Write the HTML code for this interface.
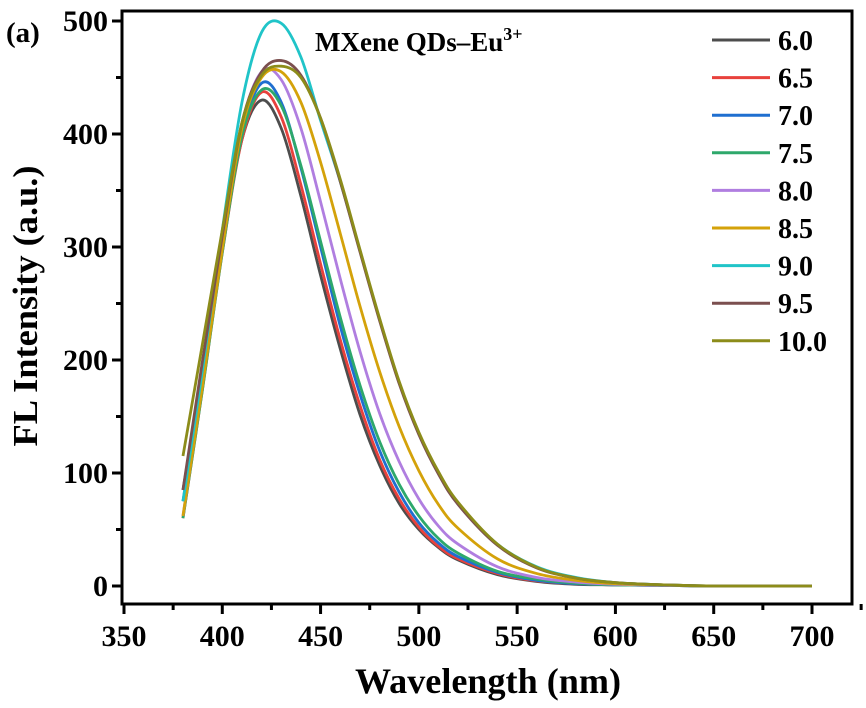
<!DOCTYPE html>
<html><head><meta charset="utf-8"><style>
body{margin:0;background:#fff;}
svg text{font-family:"Liberation Serif",serif;font-weight:bold;fill:#000;}
</style></head><body>
<svg id="chart" width="866" height="703" xmlns="http://www.w3.org/2000/svg">
<rect x="122" y="11" width="730" height="593" fill="none" stroke="#000" stroke-width="3"/>
<g id="axes"></g>
<g id="series"></g>
<g id="legend"></g>
<text x="6" y="42" font-size="29">(a)</text>
<text x="315" y="51" font-size="27">MXene QDs–Eu<tspan dy="-11" font-size="18">3+</tspan></text>
<text x="488" y="693" font-size="36" text-anchor="middle" textLength="266" lengthAdjust="spacingAndGlyphs">Wavelength (nm)</text>
<text transform="translate(37,306) rotate(-90)" font-size="35" text-anchor="middle" textLength="281" lengthAdjust="spacingAndGlyphs">FL Intensity (a.u.)</text>
</svg>
<script>
const wavelengths=[380,390,400,410,420,430,440,450,460,470,480,490,500,510,520,540,560,580,600,625,650,700];
const seriesNames=["6.0","6.5","7.0","7.5","8.0","8.5","9.0","9.5","10.0"];
const seriesColors=["#4d4d4d","#e8413c","#1f6fd0","#2ea86b","#b07ee0","#d4a20a","#20c4c8","#7b4f4f","#8c8c1a"];
const s60=[85,190,300,395,430,405,345,275,210,152,107,73,50,34,23,10,4,1.5,1,0.5,0,0];
const s65=[60,175,295,395,437,415,355,285,218,160,112,77,52,35,24,11,4.5,2,1,0.5,0,0];
const s70=[75,185,300,400,445,428,370,300,230,170,120,83,56,38,26,12,5,2,1,0.5,0,0];
const s75=[60,175,295,398,439,425,372,305,238,178,128,90,62,42,29,13,6,2.5,1,0.5,0,0];
const s80=[62,180,300,408,455,448,405,340,272,208,153,110,77,53,37,17,7.5,3.5,1.5,0.5,0,0];
const s85=[62,178,298,405,450,455,428,375,312,248,190,141,102,72,51,24,11,5,2,1,0,0];
const s90=[75,192,315,428,490,498,468,412,358,297,236,180,135,100,73,37,17,7.5,3,1,0,0];
const s95=[85,200,310,410,455,465,452,414,358,296,235,179,134,99,72,36,16,7,3,1,0,0];
const s100=[115,215,315,410,452,460,450,414,360,298,237,181,136,101,74,37,16.5,7,3,1,0,0];
const seriesValues=[s60,s65,s70,s75,s80,s85,s90,s95,s100];
const xTicks=[350,400,450,500,550,600,650,700];
const yTicks=[0,100,200,300,400,500];

const NS="http://www.w3.org/2000/svg";
function xs(v){return 124+(v-350)*(812-124)/350;}
function ys(v){return 586-v*(586-21)/500;}
function mk(tag,attrs,parent){const e=document.createElementNS(NS,tag);for(const k in attrs)e.setAttribute(k,attrs[k]);parent.appendChild(e);return e;}
const axes=document.getElementById('axes');
xTicks.forEach((t,i)=>{
  const l=mk('line',{x1:xs(t),x2:xs(t),y1:604,y2:614,stroke:'#000','stroke-width':3},axes);
  
  
  const m=mk('line',{x1:xs(t+25),x2:xs(t+25),y1:604,y2:610,stroke:'#000','stroke-width':3},axes);
  
  
  const tx=mk('text',{x:xs(t),y:646,'font-size':30,'text-anchor':'middle'},axes);
  tx.textContent=t;
  
  
});
yTicks.forEach(t=>{
  const l=mk('line',{x1:112,x2:122,y1:ys(t),y2:ys(t),stroke:'#000','stroke-width':3},axes);
  
  
  if(t<500){const m=mk('line',{x1:116,x2:122,y1:ys(t+50),y2:ys(t+50),stroke:'#000','stroke-width':3},axes);
  
  }
  const tx=mk('text',{x:108,y:ys(t)+10,'font-size':30,'text-anchor':'end'},axes);
  tx.textContent=t;
  
  
});
function pathFor(vals){
  const p=wavelengths.map((w,i)=>[xs(w),ys(vals[i])]);
  let d='M'+p[0][0]+','+p[0][1];
  for(let i=0;i<p.length-1;i++){
    const p0=p[Math.max(0,i-1)],p1=p[i],p2=p[i+1],p3=p[Math.min(p.length-1,i+2)];
    const c1=[p1[0]+(p2[0]-p0[0])/6,p1[1]+(p2[1]-p0[1])/6];
    const c2=[p2[0]-(p3[0]-p1[0])/6,p2[1]-(p3[1]-p1[1])/6];
    d+=' C'+c1[0]+','+c1[1]+' '+c2[0]+','+c2[1]+' '+p2[0]+','+p2[1];
  }
  return d;
}
const sg=document.getElementById('series'), lg=document.getElementById('legend');
seriesValues.forEach((vals,i)=>{
  const p=mk('path',{d:pathFor(vals),fill:'none',stroke:seriesColors[i],'stroke-width':2.8},sg);
  
  
  const y=40+i*37.6;
  const l=mk('line',{x1:712,x2:770,y1:y,y2:y,stroke:seriesColors[i],'stroke-width':3},lg);
  
  
  const t=mk('text',{x:778,y:y+10,'font-size':28},lg);
  t.textContent=seriesNames[i];
  
  
});
</script>
</body></html>
